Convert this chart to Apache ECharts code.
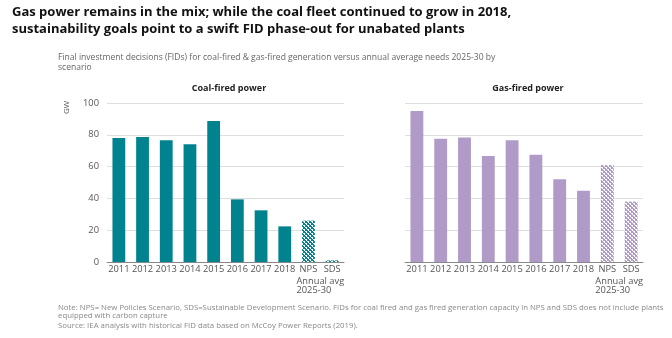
<!DOCTYPE html>
<html>
<head>
<meta charset="utf-8">
<script src="https://cdn.jsdelivr.net/npm/echarts@6/dist/echarts.min.js"></script>
<style>
  html, body { margin: 0; padding: 0; background: #fff; }
  #chart { width: 672px; height: 338px; }
</style>
</head>
<body>
<div id="chart"></div>
<script>
// Categories shared by both panels
const categories = ['2011', '2012', '2013', '2014', '2015', '2016', '2017', '2018', 'NPS', 'SDS'];
// Coal-fired FIDs (GW); last two are scenario annual averages 2025-30
const coalValues = [78, 78.6, 76.5, 74, 88.7, 39.4, 32.5, 22.4, 26, 1];
// Gas-fired FIDs (GW)
const gasValues = [95, 77.5, 78.3, 66.7, 76.6, 67.5, 52, 44.8, 61, 38];
const yTicks = [0, 20, 40, 60, 80, 100];

const TEAL = '#00838f';
const PURPLE = '#b09bc8';

// Small cross-hatched tile used for the scenario bars
function hatch(color) {
  const c = document.createElement('canvas');
  c.width = 4; c.height = 4;
  const g = c.getContext('2d');
  g.fillStyle = '#ffffff';
  g.fillRect(0, 0, 4, 4);
  g.fillStyle = color;
  g.fillRect(0, 0, 1, 1); g.fillRect(1, 1, 1, 1); g.fillRect(2, 2, 1, 1); g.fillRect(3, 3, 1, 1);
  g.fillRect(3, 0, 1, 1); g.fillRect(2, 1, 1, 1); g.fillRect(1, 2, 1, 1); g.fillRect(0, 3, 1, 1);
  g.fillRect(1, 0, 1, 1); g.fillRect(3, 2, 1, 1);
  return { image: c, repeat: 'repeat' };
}

function barData(values, color) {
  return values.map((v, i) => ({
    value: v,
    itemStyle: { color: i >= 8 ? hatch(color) : color }
  }));
}

const FONT = 'Open Sans';
const axisLabel = { color: '#555', fontSize: 9.3, fontFamily: FONT, margin: 3 };

const chart = echarts.init(document.getElementById('chart'), null, { renderer: 'canvas' });

chart.setOption({
  animation: false,
  backgroundColor: '#ffffff',
  title: [
    {
      text: 'Gas power remains in the mix; while the coal fleet continued to grow in 2018,\nsustainability goals point to a swift FID phase-out for unabated plants',
      left: 7, top: -1,
      textStyle: { fontSize: 13, fontWeight: 'bold', color: '#111', fontFamily: FONT, lineHeight: 17 }
    },
    {
      text: 'Final investment decisions (FIDs) for coal-fired & gas-fired generation versus annual average needs 2025-30 by\nscenario',
      left: 53, top: 48,
      textStyle: { fontSize: 8.55, fontWeight: 'normal', color: '#666', fontFamily: FONT, lineHeight: 10 }
    },
    {
      text: 'Coal-fired power', left: 224, top: 79, textAlign: 'center',
      textStyle: { fontSize: 9, fontWeight: 'bold', color: '#222', fontFamily: FONT }
    },
    {
      text: 'Gas-fired power', left: 523, top: 79, textAlign: 'center',
      textStyle: { fontSize: 9, fontWeight: 'bold', color: '#222', fontFamily: FONT }
    },
    {
      text: 'Note: NPS= New Policies Scenario, SDS=Sustainable Development Scenario. FIDs for coal fired and gas fired generation capacity in NPS and SDS does not include plants\nequipped with carbon capture',
      left: 53, top: 299,
      textStyle: { fontSize: 7.8, fontWeight: 'normal', color: '#888', fontFamily: FONT, lineHeight: 8 }
    },
    {
      text: 'Source: IEA analysis with historical FID data based on McCoy Power Reports (2019).',
      left: 53, top: 317,
      textStyle: { fontSize: 7.8, fontWeight: 'normal', color: '#888', fontFamily: FONT }
    }
  ],
  grid: [
    { left: 107, right: 328, top: 103, bottom: 76 },
    { left: 405, right: 29, top: 103, bottom: 76 }
  ],
  xAxis: [0, 1].map(i => ({
    type: 'category', gridIndex: i, data: categories,
    axisLine: { lineStyle: { color: '#888', width: 1 } },
    axisTick: { show: false },
    axisLabel: Object.assign({}, axisLabel, { interval: 0 })
  })),
  yAxis: [0, 1].map(i => ({
    type: 'value', gridIndex: i, min: yTicks[0], max: yTicks[yTicks.length - 1], interval: 20,
    axisLine: { show: false }, axisTick: { show: false },
    axisLabel: Object.assign({}, axisLabel, { show: i === 0, margin: 8 }),
    splitLine: { lineStyle: { color: '#dedede', width: 1 } }
  })),
  series: [
    { type: 'bar', xAxisIndex: 0, yAxisIndex: 0, data: barData(coalValues, TEAL), barWidth: '54%' },
    { type: 'bar', xAxisIndex: 1, yAxisIndex: 1, data: barData(gasValues, PURPLE), barWidth: '54%' }
  ]
});

// "Annual avg 2025-30" caption under the scenario categories of each panel
const captions = [];
[0, 1].forEach(i => {
  const p = chart.convertToPixel({ xAxisIndex: i, yAxisIndex: i }, ['NPS', 0]);
  captions.push({
    type: 'text', left: p[0] - 12, top: p[1] + 15,
    style: { text: 'Annual avg\n2025-30', fill: '#555', fontSize: 9.3, fontFamily: FONT, lineHeight: 9 }
  });
});
// Rotated unit label next to the left axis
chart.setOption({
  graphic: captions.concat([{
    type: 'text', x: 63, y: 114, rotation: Math.PI / 2, originX: 0, originY: 0,
    style: { text: 'GW', fill: '#555', fontSize: 8, fontFamily: FONT, textAlign: 'left', textVerticalAlign: 'top' }
  }])
});
</script>
</body>
</html>
